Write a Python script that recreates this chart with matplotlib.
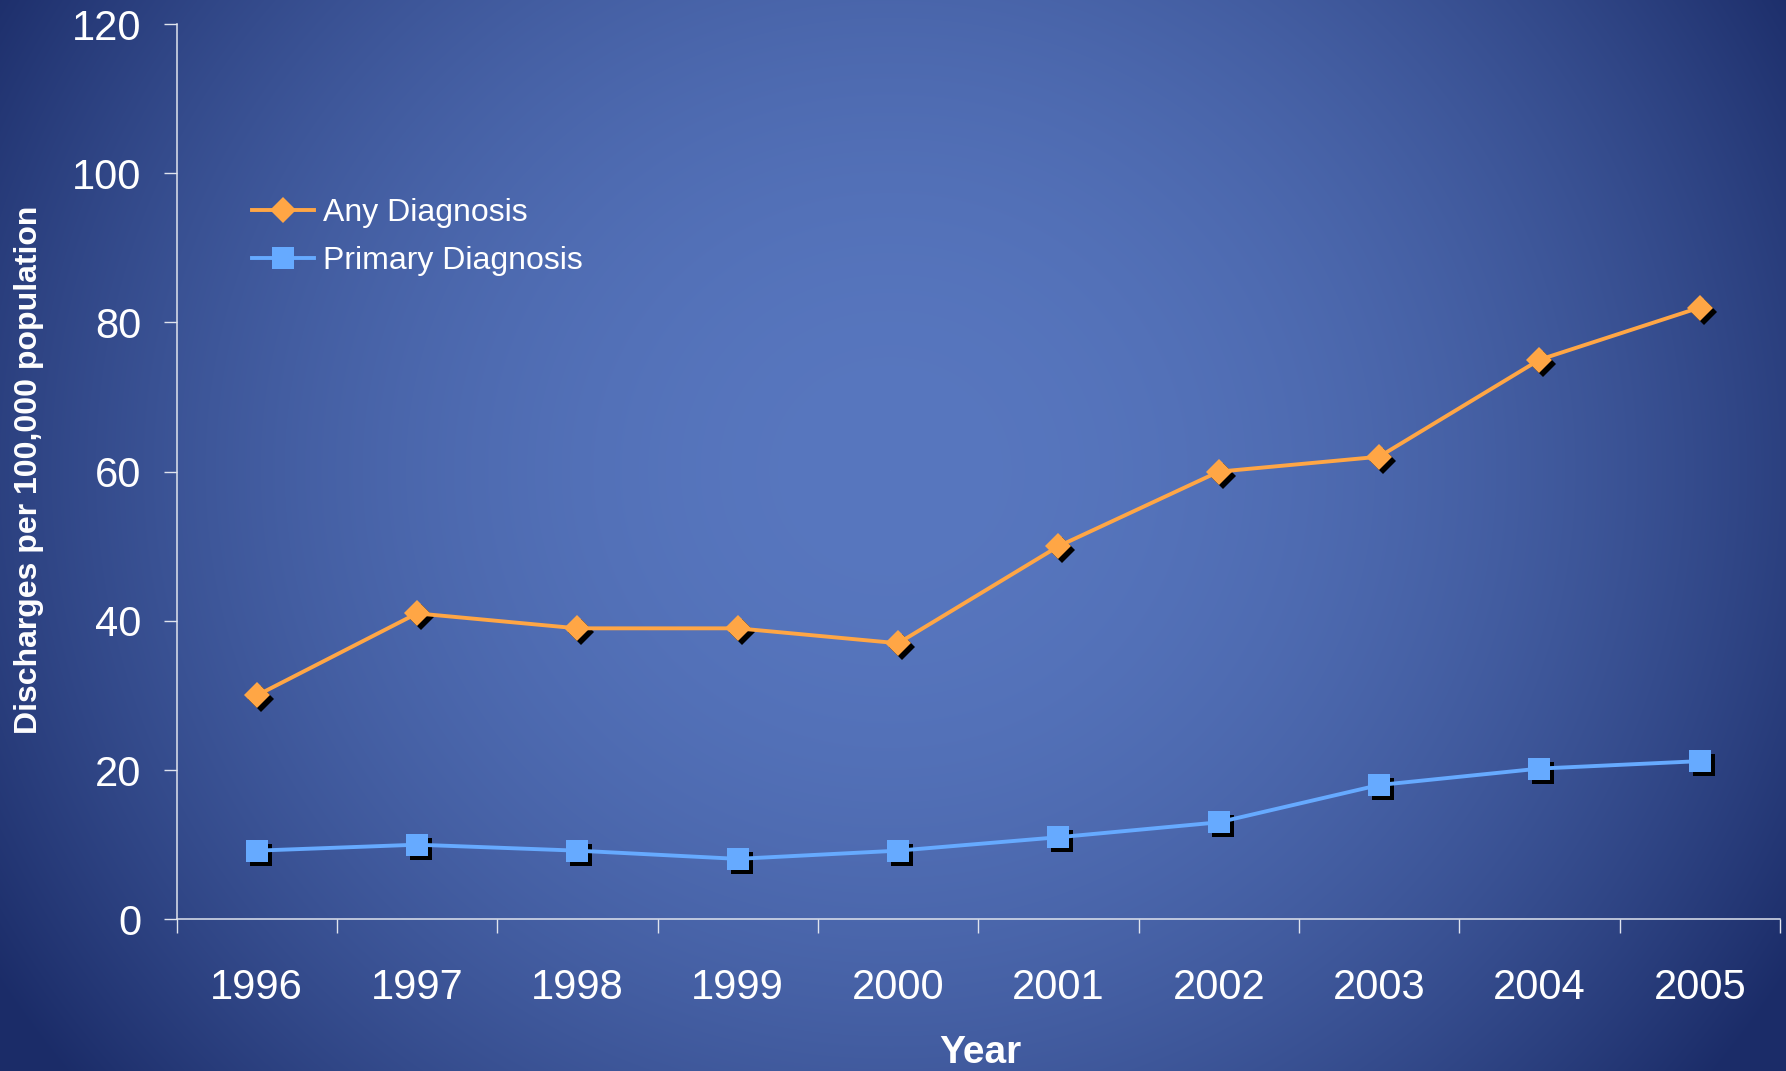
import numpy as np
import matplotlib
matplotlib.use('Agg')
import matplotlib.pyplot as plt
from matplotlib.lines import Line2D
from matplotlib.transforms import offset_copy

# data
years = ['1996', '1997', '1998', '1999', '2000', '2001', '2002', '2003', '2004', '2005']
any_diag = [30, 41, 39, 39, 37, 50, 60, 62, 75, 82]
primary_diag = [9.2, 10, 9.2, 8.1, 9.2, 11, 13, 18, 20.2, 21.2]

orange = '#FFA645'
blue = '#66AAFF'

plt.rcParams['font.family'] = ['Liberation Sans', 'DejaVu Sans']

W, H = 1786, 1071
fig = plt.figure(figsize=(W / 100, H / 100), dpi=100)

# background gradient (light centre, dark navy edges)
bg = fig.add_axes([0, 0, 1, 1], zorder=-10)
xx, yy = np.meshgrid(np.arange(W), np.arange(H))
t = ((xx - 890) / 1049.0) ** 2 + ((yy - 470) / 980.0) ** 2
t = np.clip(t, 0, 1)[..., None]
c0 = np.array([0x58, 0x77, 0xBF]) / 255.0
c1 = np.array([0x1B, 0x2C, 0x68]) / 255.0
bg.imshow(c0 * (1 - t) + c1 * t, aspect='auto', interpolation='bilinear')
bg.axis('off')

ax = fig.add_axes([176.5 / W, 1 - 919.3 / H, (1780 - 176.5) / W, (919.3 - 24) / H])
ax.set_facecolor('none')

lw = 2.8
ms_d, ms_s = 13.5, 16

x = np.arange(len(years))
shadow = offset_copy(ax.transData, fig=fig, x=4, y=-4, units='dots')
ax.plot(x, any_diag, 'D', color='black', markersize=ms_d, markeredgewidth=0, transform=shadow, zorder=2)
ax.plot(x, primary_diag, 's', color='black', markersize=ms_s, markeredgewidth=0, transform=shadow, zorder=2)
ax.plot(x, any_diag, '-D', color=orange, lw=lw, markersize=ms_d, markeredgewidth=0, zorder=3)
ax.plot(x, primary_diag, '-s', color=blue, lw=lw, markersize=ms_s, markeredgewidth=0, zorder=3)

ax.set_xlim(-0.5, len(years) - 0.5)
ax.set_ylim(0, 120)
ax.set_yticks(range(0, 121, 20))

# ticks between categories, labels at centres
ax.set_xticks(np.arange(-0.5, len(years)))
ax.set_xticklabels([])
ax.set_xticks(x, minor=True)
ax.set_xticklabels(years, minor=True)

for s in ['top', 'right']:
    ax.spines[s].set_visible(False)
for s in ['left', 'bottom']:
    ax.spines[s].set_color('#E0E4EE')
    ax.spines[s].set_linewidth(1.1)

ax.tick_params(axis='y', colors='white', labelsize=30, length=9.5, width=1, direction='out', pad=16)
ax.tick_params(axis='y', color='#E0E4EE')
ax.tick_params(axis='x', which='major', color='#E0E4EE', length=10, width=1, direction='out')
ax.tick_params(axis='x', which='minor', colors='white', labelsize=30, length=0, pad=35)

fig.text(29 / W, 1 - 470 / H, 'Discharges per 100,000 population', rotation=90,
         ha='center', va='center', color='white', fontsize=23, fontweight='bold')
fig.text(980 / W, 1 - 1053 / H, 'Year', ha='center', va='center', color='white',
         fontsize=28, fontweight='bold')

handles = [Line2D([], [], color=orange, lw=lw, marker='D', markersize=ms_d, markeredgewidth=0),
           Line2D([], [], color=blue, lw=lw, marker='s', markersize=ms_s, markeredgewidth=0)]
leg = ax.legend(handles, ['Any Diagnosis', 'Primary Diagnosis'], loc='upper left',
                bbox_to_anchor=(0.047, 0.806), frameon=False, fontsize=23,
                borderpad=0, borderaxespad=0, handlelength=1.94, handletextpad=0.3,
                labelspacing=0.58)
for txt in leg.get_texts():
    txt.set_color('white')

fig.savefig('out.png', dpi=100)
